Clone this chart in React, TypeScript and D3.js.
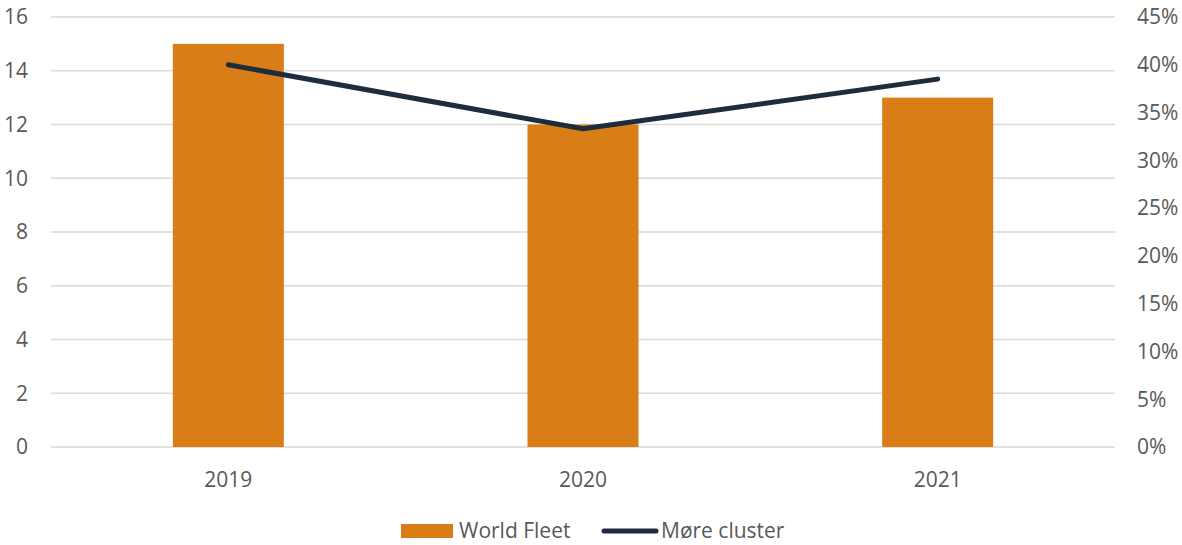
import React from "react";
import * as d3 from "d3";

const categories = ["2019", "2020", "2021"];
const worldFleet = [15, 12, 13];
const moreCluster = [0.40, 0.333, 0.385];
const leftTicks = [0, 2, 4, 6, 8, 10, 12, 14, 16];
const rightTicks = [0, 0.05, 0.1, 0.15, 0.2, 0.25, 0.3, 0.35, 0.4, 0.45];

const W = 1182;
const H = 545;
const left = 51;
const right = 1115;
const top = 17;
const bottom = 447;
const barColor = "#d97e16";
const lineColor = "#1e2d3d";
const textColor = "#595959";
const font = "'Open Sans', Lato, sans-serif";
const fs = 21;

export default function App() {
  const x = d3.scaleBand<string>().domain(categories).range([left, right]).paddingInner(0.687).paddingOuter(0.3435);
  const yL = d3.scaleLinear().domain([0, 16]).range([bottom, top]);
  const yR = d3.scaleLinear().domain([0, 0.45]).range([bottom, top]);
  const line = d3
    .line<number>()
    .x((_, i) => (x(categories[i]) as number) + x.bandwidth() / 2)
    .y((d) => yR(d));
  const pct = d3.format(".0%");
  return (
    <svg width={W} height={H} style={{ position: "absolute", left: 0, top: 0 }} fontFamily={font}>
      <rect x={0} y={0} width={W} height={H} fill="#fff" />
      {leftTicks.map((t) => (
        <line key={t} x1={left} x2={right} y1={yL(t)} y2={yL(t)} stroke="#d9d9d9" strokeWidth={1.3} />
      ))}
      {worldFleet.map((v, i) => (
        <rect
          key={i}
          x={x(categories[i])}
          y={yL(v)}
          width={x.bandwidth()}
          height={yL(0) - yL(v)}
          fill={barColor}
        />
      ))}
      <path d={line(moreCluster) || ""} fill="none" stroke={lineColor} strokeWidth={5} strokeLinecap="round" strokeLinejoin="round" />
      {leftTicks.map((t) => (
        <text key={t} x={28} y={yL(t)} dy="0.35em" textAnchor="end" fontSize={fs} fill={textColor}>
          {t}
        </text>
      ))}
      {rightTicks.map((t) => (
        <text key={t} x={1137} y={yR(t)} dy="0.35em" textAnchor="start" fontSize={fs} fill={textColor}>
          {pct(t)}
        </text>
      ))}
      {categories.map((c) => (
        <text key={c} x={(x(c) as number) + x.bandwidth() / 2} y={480} dy="0.35em" textAnchor="middle" fontSize={fs} fill={textColor}>
          {c}
        </text>
      ))}
      <rect x={401} y={524} width={52} height={14} fill={barColor} />
      <text x={459} y={531} dy="0.35em" fontSize={fs} fill={textColor}>World Fleet</text>
      <line x1={604} x2={656} y1={531} y2={531} stroke={lineColor} strokeWidth={5} strokeLinecap="round" />
      <text x={661} y={531} dy="0.35em" fontSize={fs} fill={textColor}>Møre cluster</text>
    </svg>
  );
}
